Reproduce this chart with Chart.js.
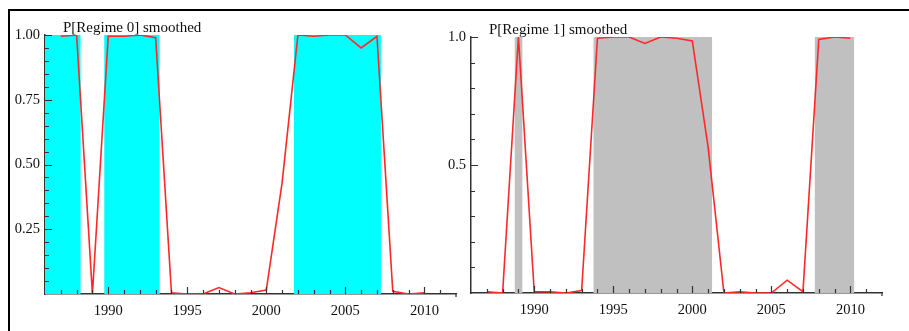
<!DOCTYPE html>
<html>
<head>
<meta charset="utf-8">
<script src="https://cdn.jsdelivr.net/npm/chart.js@4"></script>
<style>
  html, body { margin: 0; padding: 0; background: #fff; }
  #wrap { position: relative; width: 909px; height: 331px; overflow: hidden; }
  #frame { position: absolute; left: 8px; top: 9px; width: 1000px; height: 400px;
           border-top: 2px solid #000; border-left: 2px solid #000; }
  canvas { position: absolute; left: 0; top: 0; }
</style>
</head>
<body>
<div id="wrap">
  <div id="frame"></div>
  <canvas id="chart0" width="909" height="331"></canvas>
  <canvas id="chart1" width="909" height="331"></canvas>
</div>
<script>
// yearly smoothed probabilities
const years = [1987, 1988, 1989, 1990, 1991, 1992, 1993, 1994, 1995, 1996, 1997, 1998,
  1999, 2000, 2001, 2002, 2003, 2004, 2005, 2006, 2007, 2008, 2009, 2010];
const regime0 = [0.995, 1.0, 0.0, 0.995, 0.995, 1.0, 0.99, 0.005, 0.0, 0.0, 0.025, 0.0,
  0.005, 0.015, 0.43, 1.0, 0.995, 1.0, 1.0, 0.95, 0.995, 0.01, 0.0, 0.005];
const regime1 = [0.005, 0.0, 1.0, 0.005, 0.005, 0.0, 0.01, 0.995, 1.0, 1.0, 0.975, 1.0,
  0.995, 0.985, 0.57, 0.0, 0.005, 0.0, 0.0, 0.05, 0.005, 0.99, 1.0, 0.995];

// shaded periods (start, end) for each regime
const regime0Periods = [[1986, 1988.25], [1989.75, 1993.25], [2001.75, 2007.25]];
const regime1Periods = [[1988.75, 1989.25], [1993.75, 2001.25], [2007.75, 2010.25]];

const xTicks = [1990, 1995, 2000, 2005, 2010];
const yTicks0 = [0.25, 0.5, 0.75, 1.0];
const yTicks1 = [0.5, 1.0];

const serif = "'Liberation Serif', 'Times New Roman', serif";

const toPoints = (vals) => years.map((yr, i) => ({ x: yr, y: vals[i] }));

const periodPoints = (periods) => {
  const pts = [];
  periods.forEach(([a, b]) => {
    pts.push({ x: a, y: 0 }, { x: a, y: 1 }, { x: b, y: 1 }, { x: b, y: 0 });
  });
  return pts;
};

// small tick marks pointing into the plot, like the original
const innerTicks = {
  id: "innerTicks",
  afterDatasetsDraw(chart, args, opts) {
    const { ctx, chartArea, scales } = chart;
    ctx.save();
    ctx.strokeStyle = "#333";
    ctx.lineWidth = 1.2;
    ctx.beginPath();
    for (let yr = 1987; yr < 2012; yr++) {
      const px = Math.round(scales.x.getPixelForValue(yr)) + 0.5;
      const len = yr % 5 === 0 ? 7 : 4;
      ctx.moveTo(px, chartArea.bottom);
      ctx.lineTo(px, chartArea.bottom - len);
    }
    const n = Math.round(1 / opts.step);
    for (let i = 1; i <= n; i++) {
      const py = Math.round(scales.y.getPixelForValue(i * opts.step)) + 0.5;
      const len = i % opts.majorEvery === 0 ? 7 : 4;
      ctx.moveTo(chartArea.left, py);
      ctx.lineTo(chartArea.left + len, py);
    }
    // short stub below the right end of the x axis
    ctx.moveTo(chartArea.right, chartArea.bottom);
    ctx.lineTo(chartArea.right, chartArea.bottom + 3);
    ctx.stroke();
    ctx.restore();
  },
};

// panel title written just above the plot
const panelTitle = {
  id: "panelTitle",
  afterDraw(chart, args, opts) {
    const { ctx, chartArea } = chart;
    ctx.save();
    ctx.font = "15px " + serif;
    ctx.fillStyle = "#111";
    ctx.textBaseline = "alphabetic";
    ctx.fillText(opts.text, chartArea.left + 18, chartArea.top - 3.5);
    ctx.restore();
  },
};

const makeChart = (id, vals, periods, fillColor, yTicks, digits, pad, yWidth, xHeight, title, step, majorEvery) => {
  const config = {
    type: "line",
    data: {
      datasets: [
        {
          label: "prob",
          data: toPoints(vals),
          borderColor: "rgb(255, 40, 40)",
          borderWidth: 1.6,
          pointRadius: 0,
          tension: 0,
          fill: false,
          order: 1,
        },
        {
          label: "periods",
          data: periodPoints(periods),
          borderWidth: 0,
          pointRadius: 0,
          backgroundColor: fillColor,
          fill: "origin",
          order: 2,
        },
      ],
    },
    options: {
      responsive: false,
      animation: false,
      devicePixelRatio: 1,
      layout: { padding: pad },
      plugins: {
        legend: { display: false },
        tooltip: { enabled: false },
        innerTicks: { step: step, majorEvery: majorEvery },
        panelTitle: { text: title },
      },
      scales: {
        x: {
          type: "linear",
          min: 1986,
          max: 2012,
          afterBuildTicks: (scale) => {
            scale.ticks = xTicks.map((v) => ({ value: v }));
          },
          afterFit: (scale) => {
            scale.height = xHeight;
          },
          grid: { display: false, drawTicks: false },
          border: { display: true, color: "#333", width: 1.5 },
          ticks: {
            padding: 8,
            color: "#111",
            font: { family: serif, size: 14.5 },
            callback: (v) => String(v),
          },
        },
        y: {
          type: "linear",
          min: 0,
          max: 1,
          afterBuildTicks: (scale) => {
            scale.ticks = yTicks.map((v) => ({ value: v }));
          },
          afterFit: (scale) => {
            scale.width = yWidth;
          },
          grid: { display: false, drawTicks: false },
          border: { display: true, color: "#333", width: 1.5 },
          ticks: {
            padding: 5,
            color: "#111",
            font: { family: serif, size: 14.5 },
            callback: (v) => Number(v).toFixed(digits),
          },
        },
      },
    },
    plugins: [innerTicks, panelTitle],
  };
  // eslint-disable-next-line no-undef
  return new Chart(document.getElementById(id), config);
};

makeChart("chart0", regime0, regime0Periods, "#00ffff", yTicks0, 2,
  { left: 0, top: 35, right: 453, bottom: 0 }, 45, 37, "P[Regime 0] smoothed", 0.05, 5);
makeChart("chart1", regime1, regime1Periods, "#c0c0c0", yTicks1, 1,
  { left: 420, top: 37, right: 27, bottom: 0 }, 51, 38, "P[Regime 1] smoothed", 0.1, 5);
</script>
</body>
</html>
